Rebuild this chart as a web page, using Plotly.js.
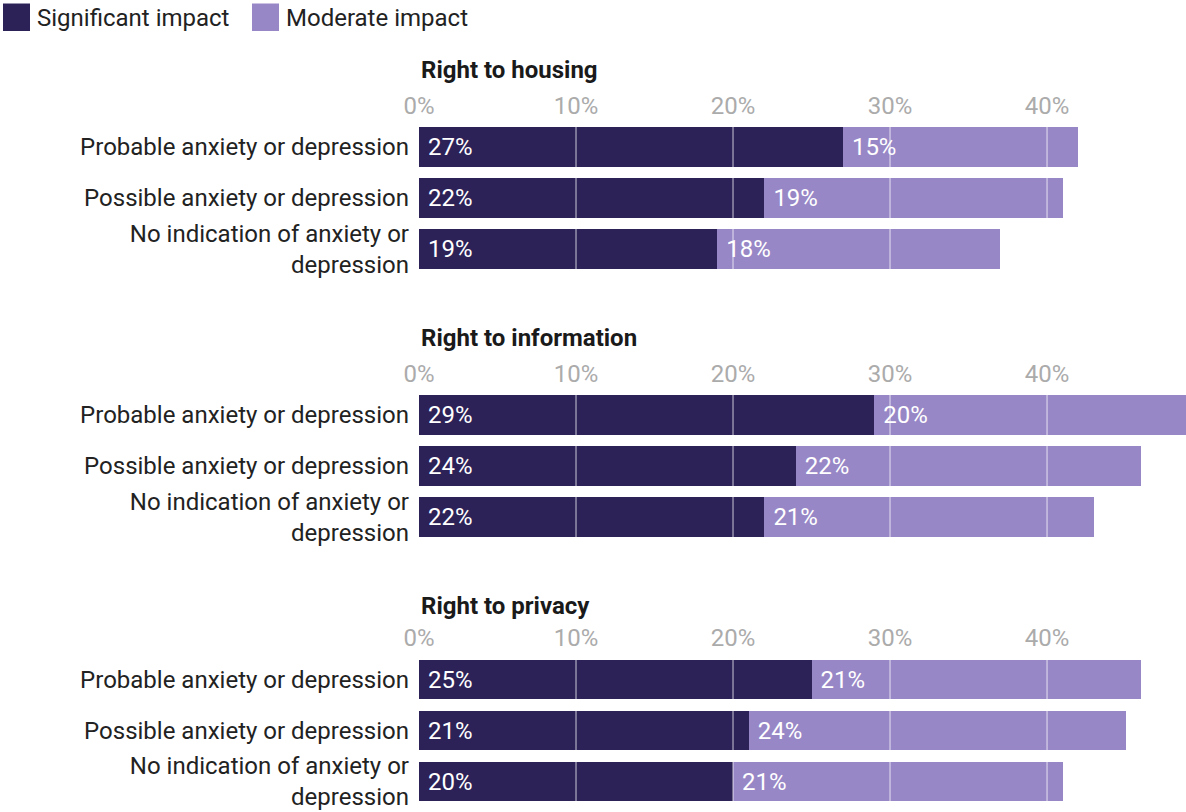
<!DOCTYPE html>
<html>
<head>
<meta charset="utf-8">
<script src="https://cdn.plot.ly/plotly-3.0.1.min.js"></script>
<style>html,body{margin:0;padding:0;background:#fff;}#chart{width:1186px;height:812px;}</style>
</head>
<body>
<div id="chart"></div>
<script>
// ---- data ----
const panels = ["Right to housing", "Right to information", "Right to privacy"];
const groups = ["Probable anxiety or depression", "Possible anxiety or depression", "No indication of anxiety or<br>depression"];
const seriesNames = ["Significant impact", "Moderate impact"];
const significant = [
  [27, 22, 19],
  [29, 24, 22],
  [25, 21, 20]
];
const moderate = [
  [15, 19, 18],
  [20, 22, 21],
  [21, 24, 21]
];
const tickVals = [0, 10, 20, 30, 40];
const tickText = ["0%", "10%", "20%", "30%", "40%"];

// ---- style ----
const W = 1186, H = 812;
const colors = ["#2c2258", "#9887c6"];
const FONT = "Roboto, 'Open Sans', sans-serif";
const FS = 24;
const xMax = 48.85;
// panel vertical layout in pixels (top of domain, bottom of domain, title centre)
const panelPx = [[121.5, 274.5, 70], [389.5, 542.5, 338], [654, 807, 606]];
const py = p => 1 - p / H;

const traces = [];
const layout = {
  width: W, height: H,
  margin: {l: 419, r: 0, t: 0, b: 0},
  paper_bgcolor: "#fff", plot_bgcolor: "#fff",
  barmode: "stack",
  bargap: 0.216,
  showlegend: false,
  font: {family: FONT, size: FS, color: "#222"},
  annotations: [],
  shapes: []
};

panels.forEach((title, i) => {
  const xa = i === 0 ? "x" : "x" + (i + 1);
  const ya = i === 0 ? "y" : "y" + (i + 1);
  [significant[i], moderate[i]].forEach((vals, s) => {
    traces.push({
      type: "bar", orientation: "h",
      x: vals, y: groups,
      xaxis: xa, yaxis: ya,
      name: seriesNames[s],
      marker: {color: colors[s], line: {width: 0}},
      text: vals.map(String),
      texttemplate: "\u00a0%{text}%",
      textposition: "inside",
      insidetextanchor: "start",
      textfont: {color: "#fff", size: FS, family: FONT},
      constraintext: "none",
      hoverinfo: "skip"
    });
  });
  const [top, bot, tc] = panelPx[i];
  layout["xaxis" + (i === 0 ? "" : i + 1)] = {
    domain: [0, 1], anchor: ya, side: "top",
    range: [0, xMax], tickmode: "array", tickvals: tickVals, ticktext: tickText,
    showgrid: false, zeroline: false, showline: false, ticks: "",
    ticklabelstandoff: 2,
    tickfont: {size: FS, color: "#ababab", family: FONT},
    fixedrange: true
  };
  layout["yaxis" + (i === 0 ? "" : i + 1)] = {
    domain: [py(bot), py(top)], anchor: xa,
    type: "category", autorange: "reversed",
    showgrid: false, zeroline: false, showline: false, ticks: "",
    ticklabelstandoff: 9,
    tickfont: {size: FS, color: "#222", family: FONT},
    fixedrange: true
  };
  layout.annotations.push({
    text: "<b>" + title + "</b>", xref: xa + " domain", x: 0, xanchor: "left",
    yref: "paper", y: py(tc), yanchor: "middle", showarrow: false,
    font: {size: FS, color: "#1a1a1a", family: FONT}
  });
  // grid lines drawn on top of the bars
  tickVals.slice(1).forEach(v => {
    layout.shapes.push({
      type: "line", layer: "above", xref: xa, x0: v, x1: v,
      yref: ya + " domain", y0: 0, y1: 1,
      line: {color: "rgba(255,255,255,0.5)", width: 1.5}
    });
  });
});

// custom legend (large swatches)
const legendItems = [[3, 30, 35], [252, 279, 284]];
seriesNames.forEach((name, s) => {
  const [a, b, tx] = legendItems[s];
  layout.shapes.push({
    type: "rect", xref: "paper", yref: "paper",
    x0: (a - 419) / (W - 419), x1: (b - 419) / (W - 419),
    y0: py(31), y1: py(3.5),
    fillcolor: colors[s], line: {width: 0}
  });
  layout.annotations.push({
    text: name, xref: "paper", x: (tx - 419) / (W - 419), xanchor: "left",
    yref: "paper", y: py(17.5), yanchor: "middle", showarrow: false,
    font: {size: FS, color: "#222", family: FONT}
  });
});

Plotly.newPlot("chart", traces, layout, {displayModeBar: false, staticPlot: true});
</script>
</body>
</html>
